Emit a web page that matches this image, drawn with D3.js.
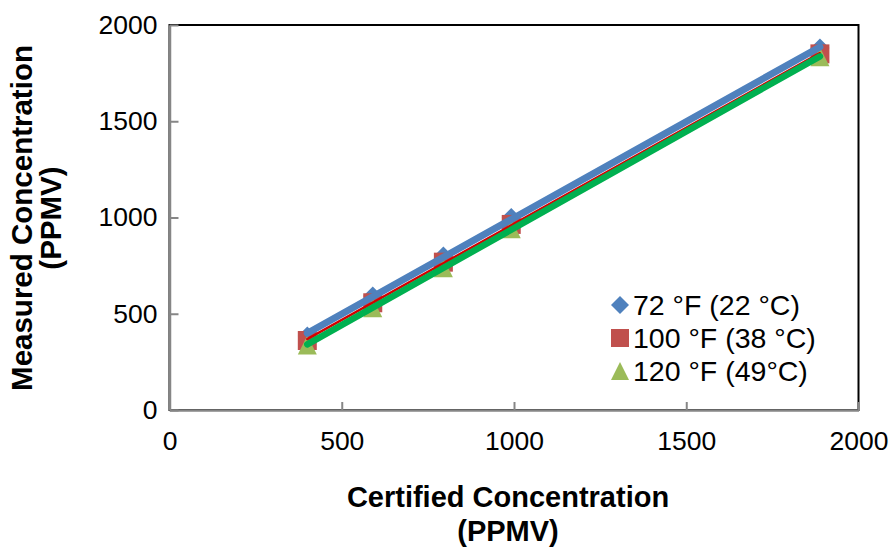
<!DOCTYPE html>
<html>
<head>
<meta charset="utf-8">
<script src="https://cdn.jsdelivr.net/npm/d3@7"></script>
<style>
  body { margin: 0; background: #fff; }
  svg { display: block; font-family: Arial, "Liberation Sans", sans-serif; }
</style>
</head>
<body>
<svg id="chart"></svg>
<script>
// certified concentration (PPMV) for each test point
const certified = [400, 590, 795, 992, 1888];
// measured concentration (PPMV) per temperature
const temp72 = [385, 592, 800, 1000, 1880];
const temp100 = [361, 557, 768, 964, 1850];
const temp120 = [338, 531, 739, 942, 1835];
const seriesNames = ['72 °F (22 °C)', '100 °F (38 °C)', '120 °F (49°C)'];
const xTicks = [0, 500, 1000, 1500, 2000];
const yTicks = [0, 500, 1000, 1500, 2000];

const series = [
  { name: seriesNames[0], values: temp72, marker: 'diamond', color: '#4f81bd', line: '#4f81bd', lineWidth: 7 },
  { name: seriesNames[1], values: temp100, marker: 'square', color: '#c0504d', line: '#d40000', lineWidth: 2.5 },
  { name: seriesNames[2], values: temp120, marker: 'triangle', color: '#9bbb59', line: '#00b050', lineWidth: 6.5 }
];

function markerPath(type, h) {
  if (type === 'diamond') return `M0,${-h}L${h},0L0,${h}L${-h},0Z`;
  if (type === 'square') return `M${-h},${-h}H${h}V${h}H${-h}Z`;
  return `M0,${-h}L${h},${h}L${-h},${h}Z`;
}

// least squares fit, used for the trendlines
function linearFit(xs, ys) {
  const mx = d3.mean(xs), my = d3.mean(ys);
  const sxy = d3.sum(xs, (x, i) => (x - mx) * (ys[i] - my));
  const sxx = d3.sum(xs, x => (x - mx) * (x - mx));
  const slope = sxy / sxx;
  return x => my + slope * (x - mx);
}

function drawChart(elementId) {
  const width = 895, height = 549;
  const plot = { left: 169.5, right: 858.5, top: 25, bottom: 410 };

  const x = d3.scaleLinear().domain([0, 2000]).range([plot.left, plot.right]);
  const y = d3.scaleLinear().domain([0, 2000]).range([plot.bottom, plot.top]);

  const svg = d3.select(`#${elementId}`)
    .attr('width', width)
    .attr('height', height);

  // plot area border (top/right stay black)
  svg.append('rect')
    .attr('x', plot.left).attr('y', plot.top)
    .attr('width', plot.right - plot.left).attr('height', plot.bottom - plot.top)
    .attr('fill', 'none').attr('stroke', '#000').attr('stroke-width', 2);

  const xAxis = g => g
    .attr('transform', `translate(0,${plot.bottom})`)
    .call(d3.axisBottom(x).tickValues(xTicks).tickFormat(d3.format('d'))
      .tickSizeInner(-8).tickSizeOuter(0).tickPadding(21));
  const yAxis = g => g
    .attr('transform', `translate(${plot.left},0)`)
    .call(d3.axisLeft(y).tickValues(yTicks).tickFormat(d3.format('d'))
      .tickSizeInner(-9).tickSizeOuter(0).tickPadding(12));

  [xAxis, yAxis].forEach(a => {
    const g = svg.append('g').call(a);
    g.select('.domain').attr('stroke', '#868686').attr('stroke-width', 2.5);
    g.selectAll('.tick line').attr('stroke', '#868686').attr('stroke-width', 2);
    g.selectAll('.tick text').attr('fill', '#000').style('font-size', '26.5px')
      .style('font-family', 'Arial, "Liberation Sans", sans-serif');
  });

  // markers
  series.forEach(s => {
    svg.append('g')
      .selectAll('path')
      .data(s.values)
      .join('path')
      .attr('d', markerPath(s.marker, 9.5))
      .attr('transform', (d, i) => `translate(${x(certified[i])},${y(d)})`)
      .attr('fill', s.color);
  });

  // linear trendlines over the certified range
  const x0 = d3.min(certified), x1 = d3.max(certified);
  series.forEach(s => {
    const fit = linearFit(certified, s.values);
    svg.append('line')
      .attr('x1', x(x0)).attr('y1', y(fit(x0)))
      .attr('x2', x(x1)).attr('y2', y(fit(x1)))
      .attr('stroke', s.line)
      .attr('stroke-width', s.lineWidth)
      .attr('stroke-linecap', 'round');
  });

  // legend
  const legend = svg.append('g').attr('transform', 'translate(620,305)');
  series.forEach((s, i) => {
    const row = legend.append('g').attr('transform', `translate(0,${i * 33})`);
    row.append('path').attr('d', markerPath(s.marker, 9)).attr('fill', s.color);
    row.append('text')
      .attr('x', 13).attr('dy', '0.36em')
      .style('font-size', '28.5px')
      .text(s.name);
  });

  // axis titles
  const xTitle = svg.append('text')
    .attr('text-anchor', 'middle')
    .style('font-size', '29px').style('font-weight', 'bold');
  xTitle.append('tspan').attr('x', 508).attr('y', 507).text('Certified Concentration');
  xTitle.append('tspan').attr('x', 508).attr('y', 541).text('(PPMV)');

  const yTitle = svg.append('text')
    .attr('text-anchor', 'middle')
    .attr('transform', 'rotate(-90)')
    .style('font-size', '29.5px').style('font-weight', 'bold');
  yTitle.append('tspan').attr('x', -218).attr('y', 32).text('Measured Concentration');
  yTitle.append('tspan').attr('x', -218).attr('y', 61).text('(PPMV)');
}

drawChart('chart');
</script>
</body>
</html>
